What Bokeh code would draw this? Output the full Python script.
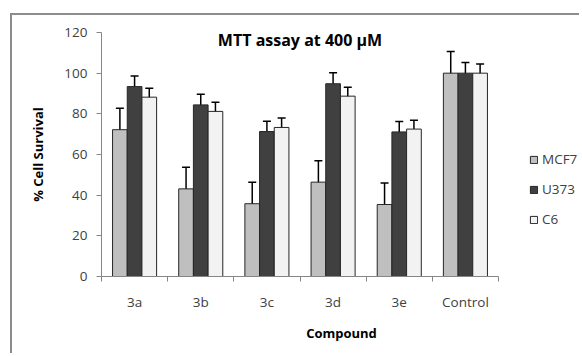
from bokeh.plotting import figure
from bokeh.models import (Range1d, LinearAxis, FixedTicker, Whisker, TeeHead,
                          ColumnDataSource, Legend, LegendItem, Label)
from bokeh.embed import file_html
from bokeh.resources import INLINE

compounds = ["3a", "3b", "3c", "3d", "3e", "Control"]
series = ["MCF7", "U373", "C6"]
mcf7 = [72.2, 43.1, 35.8, 46.4, 35.4, 100]
mcf7_err = [10.5, 10.6, 10.5, 10.5, 10.6, 10.6]
u373 = [93.4, 84.4, 71.3, 94.8, 71.1, 100]
u373_err = [5.2, 5.2, 5.0, 5.4, 5.1, 5.3]
c6 = [88.2, 81.2, 73.3, 88.7, 72.5, 100]
c6_err = [4.4, 4.5, 4.6, 4.4, 4.3, 4.5]
y_ticks = [0, 20, 40, 60, 80, 100, 120]
colors = ["#bfbfbf", "#404040", "#f2f2f2"]

FONT = "Open Sans"
TXT = "#404040"
AX = "#868686"

W, H = 569, 340
ML, MT, MB = 89, 17, 79
axis_px = 397                     # pixel length of the category axis
frame_px = W - ML
n = len(compounds)
x_end = n * frame_px / axis_px

p = figure(width=W, height=H, x_range=Range1d(0, x_end),
           y_range=Range1d(0, 120), output_backend="svg", toolbar_location=None,
           min_border_left=ML, min_border_right=0, min_border_top=MT,
           min_border_bottom=MB, x_axis_type=None, y_axis_type=None)
p.margin = (13, 0, 0, 10)
p.styles = {"border-top": "2px solid #8c8c8c", "border-left": "2px solid #8c8c8c"}
p.outline_line_color = None
p.xgrid.visible = False
p.ygrid.visible = False
p.background_fill_color = "white"
p.border_fill_color = "white"

bw = 0.222
offsets = [-bw, 0, bw]
vals = [mcf7, u373, c6]
errs = [mcf7_err, u373_err, c6_err]
renderers = []
for k in range(3):
    xs = [i + 0.5 + offsets[k] for i in range(n)]
    src = ColumnDataSource(dict(x=xs, top=vals[k],
                                upper=[v + e for v, e in zip(vals[k], errs[k])],
                                lower=[v - e for v, e in zip(vals[k], errs[k])]))
    r = p.vbar(x="x", top="top", width=bw, source=src, fill_color=colors[k],
               line_color="#262626", line_width=1)
    renderers.append(r)
    w = Whisker(base="x", upper="upper", lower="lower", source=src,
                line_color="black", line_width=1.5,
                upper_head=TeeHead(size=8, line_color="black", line_width=1.5),
                lower_head=TeeHead(size=8, line_color="black", line_width=1.5))
    p.add_layout(w)

# y axis
yax = LinearAxis(ticker=FixedTicker(ticks=y_ticks))
yax.axis_line_color = AX
yax.major_tick_line_color = AX
yax.major_tick_out = 5
yax.major_tick_in = 0
yax.minor_tick_line_color = None
yax.major_label_text_font = FONT
yax.major_label_text_font_size = "13.5px"
yax.major_label_text_color = TXT
yax.major_label_standoff = 9
yax.axis_label = "% Cell Survival"
yax.axis_label_text_font = FONT
yax.axis_label_text_font_style = "bold"
yax.axis_label_text_font_size = "13px"
yax.axis_label_text_color = "black"
yax.axis_label_standoff = 14
p.add_layout(yax, "left")

# x axis: boundary ticks
xax = LinearAxis(ticker=FixedTicker(ticks=list(range(n + 1))), bounds=(0, n))
xax.axis_line_color = AX
xax.major_tick_line_color = AX
xax.major_tick_out = 5
xax.major_tick_in = 0
xax.minor_tick_line_color = None
xax.major_label_text_color = None
xax.major_label_text_font_size = "1px"
xax.major_label_standoff = 0
p.add_layout(xax, "below")

# x axis: category labels
xlab = LinearAxis(ticker=FixedTicker(ticks=[i + 0.5 for i in range(n)]),
                  major_label_overrides={i + 0.5: c for i, c in enumerate(compounds)},
                  bounds=(0, n))
xlab.axis_line_color = None
xlab.major_tick_line_color = None
xlab.minor_tick_line_color = None
xlab.major_label_text_font = FONT
xlab.major_label_text_font_size = "13.5px"
xlab.major_label_text_color = TXT
xlab.major_label_standoff = 5
xlab.axis_label = "Compound"
xlab.axis_label_text_font = FONT
xlab.axis_label_text_font_style = "bold"
xlab.axis_label_text_font_size = "13px"
xlab.axis_label_text_color = "black"
xlab.axis_label_standoff = 10
p.add_layout(xlab, "below")

title = Label(x=n / 2, y=116.5, text="MTT assay at 400 \u00b5M",
              text_font=FONT, text_font_style="bold", text_font_size="16px",
              text_align="center", text_baseline="middle", text_color="black")
p.add_layout(title)

legend = Legend(items=[LegendItem(label=s, renderers=[r]) for s, r in zip(series, renderers)],
                location=(428, 48), orientation="vertical")
legend.glyph_width = 9
legend.glyph_height = 9
legend.label_height = 9
legend.spacing = 12
legend.padding = 0
legend.margin = 0
legend.label_standoff = 4
legend.label_text_font = FONT
legend.label_text_font_size = "13.5px"
legend.label_text_color = TXT
legend.border_line_color = None
legend.background_fill_alpha = 0
p.add_layout(legend, "center")

open("out.html", "w").write(file_html(p, INLINE))
